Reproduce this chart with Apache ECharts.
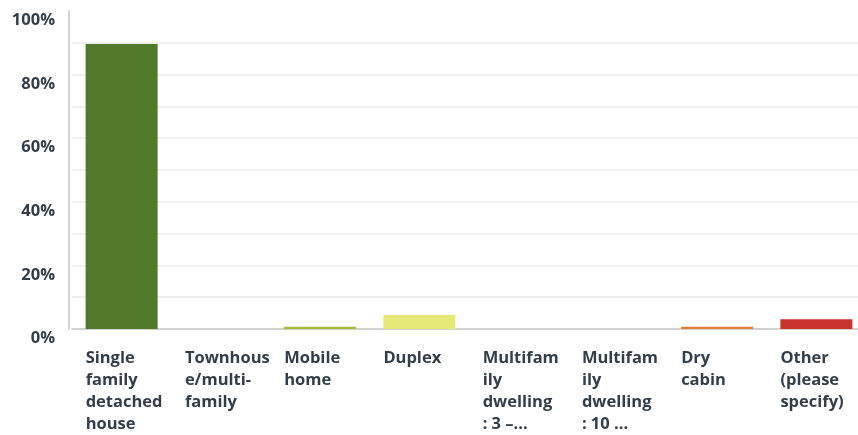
<!DOCTYPE html>
<html>
<head>
<meta charset="utf-8">
<script src="https://cdn.jsdelivr.net/npm/echarts@6/dist/echarts.min.js"></script>
<style>
    html, body {margin: 0; padding: 0; background: #fff;}
    #chart {width: 858px; height: 435px;}
</style>
</head>
<body>
<div id="chart"></div>
<script>
// categories as shown (wrapped / truncated like the picture)
var categories = [
    "Single\nfamily\ndetached\nhouse",
    "Townhous\ne/multi-\nfamily",
    "Mobile\nhome",
    "Duplex",
    "Multifam\nily\ndwelling\n: 3 –...",
    "Multifam\nily\ndwelling\n: 10 ...",
    "Dry\ncabin",
    "Other\n(please\nspecify)"
];
var values = [89.6, 0, 0.7, 4.4, 0, 0, 0.7, 3.1];
var colors = ["#507a29", "#7a9c33", "#a3bd3b", "#e7e977", "#f2cf5b", "#eea144", "#e07e38", "#c8342b"];
var yTicks = [0, 20, 40, 60, 80, 100];

var textColor = "#333e48";
var font = "'Open Sans', sans-serif";

var barData = [];
for (var i = 0; i < values.length; i++) {
    barData.push({value: values[i], itemStyle: {color: colors[i]}});
}

var option = {
    animation: false,
    grid: {left: 72, top: 11, bottom: 106, width: 794, outerBoundsMode: 'none'},
    xAxis: {
        type: 'category',
        data: categories,
        axisLine: {lineStyle: {color: '#d3d3d3', width: 2}},
        axisTick: {show: false},
        axisLabel: {
            interval: 0,
            margin: 18,
            align: 'center',
            formatter: function (val) {
                return val.split('\n').map(function (l) {
                    return '{a|' + l + '}';
                }).join('\n');
            },
            rich: {
                a: {
                    width: 72,
                    align: 'left',
                    lineHeight: 22,
                    fontSize: 16.5,
                    fontWeight: 'bold',
                    fontFamily: font,
                    color: textColor
                }
            }
        }
    },
    yAxis: {
        type: 'value',
        min: 0,
        max: 100,
        interval: 10,
        offset: 3,
        axisLine: {show: true, lineStyle: {color: '#d3d3d3', width: 2}},
        axisTick: {show: false},
        splitLine: {showMaxLine: false, lineStyle: {color: '#ebebeb', width: 1.5}},
        axisLabel: {
            margin: 14,
            verticalAlign: 'top',
            lineHeight: 19,
            fontSize: 16.5,
            fontWeight: 'bold',
            fontFamily: font,
            color: textColor,
            formatter: function (v) {
                return yTicks.indexOf(v) >= 0 ? v + '%' : '';
            }
        }
    },
    series: [{
        type: 'bar',
        barWidth: 72,
        data: barData
    }]
};

var mychart = echarts.init(document.getElementById('chart'));
mychart.setOption(option);
</script>
</body>
</html>
